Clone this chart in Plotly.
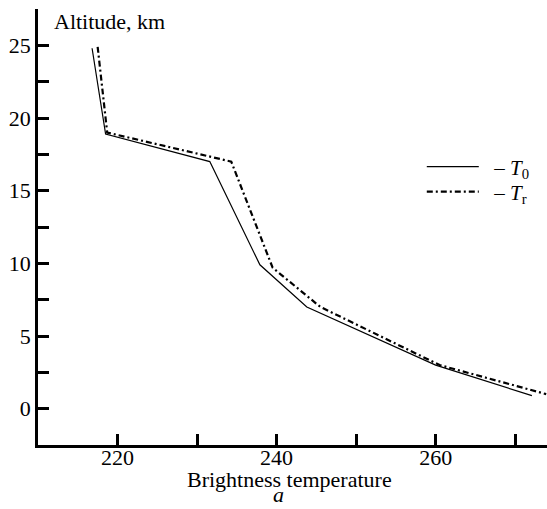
import plotly.graph_objects as go

# Data
alt_t0 = [24.8, 18.9, 17.0, 9.9, 7.0, 3.0, 0.9]
temp_t0 = [216.8, 218.5, 231.6, 237.9, 243.8, 260.0, 272.1]

alt_tr = [24.9, 19.0, 17.0, 9.7, 7.0, 3.0, 1.0]
temp_tr = [217.5, 218.7, 234.3, 239.5, 245.5, 260.5, 273.9]

x_ticks = [220, 240, 260]
y_ticks = [0, 5, 10, 15, 20, 25]

FONT = "Liberation Serif"

fig = go.Figure()
fig.add_trace(go.Scatter(
    x=temp_t0, y=alt_t0, mode="lines", name="  – <i>T</i><sub>0</sub>",
    line=dict(color="black", width=1.2), cliponaxis=False, legend="legend"))
fig.add_trace(go.Scatter(
    x=temp_tr, y=alt_tr, mode="lines", name="  – <i>T</i><sub>r</sub>",
    line=dict(color="black", width=2.2, dash="6px,3px,2px,3px"), cliponaxis=False,
    legend="legend2"))

leg_common = dict(xanchor="left", yanchor="middle", bgcolor="rgba(0,0,0,0)",
                  font=dict(family=FONT, size=21), itemwidth=52)

fig.update_layout(
    width=547, height=509,
    margin=dict(l=38, r=0, t=9, b=64),
    paper_bgcolor="white", plot_bgcolor="white",
    font=dict(family=FONT, size=22, color="black"),
    showlegend=True,
    legend=dict(x=0.754, y=(445 - 167) / 436, **leg_common),
    legend2=dict(x=0.754, y=(445 - 192) / 436, **leg_common),
    xaxis=dict(range=[210, 274], showgrid=False, zeroline=False,
               showline=True, linecolor="black", linewidth=2.5,
               ticks="inside", ticklen=11, tickwidth=2.5, tickcolor="black",
               tickfont=dict(family=FONT, size=22), ticklabelstandoff=-9,
               tickvals=x_ticks, ticktext=[str(v) for v in x_ticks],
               minor=dict(ticks="inside", ticklen=11, tickwidth=2.5,
                          tickcolor="black", tickvals=[230, 250, 270])),
    yaxis=dict(range=[-2.5, 27.5], showgrid=False, zeroline=False,
               showline=True, linecolor="black", linewidth=2.5,
               ticks="inside", ticklen=11, tickwidth=2.5, tickcolor="black",
               tickfont=dict(family=FONT, size=22),
               tickvals=y_ticks, ticktext=[str(v) for v in y_ticks],
               minor=dict(ticks="inside", ticklen=11, tickwidth=2.5,
                          tickcolor="black",
                          tickvals=[2.5, 7.5, 12.5, 17.5, 22.5, 27.5])),
    annotations=[
        dict(text="Altitude, km", xref="paper", yref="paper", x=0, y=1,
             xanchor="left", yanchor="middle", xshift=14, yshift=-12,
             showarrow=False, font=dict(family=FONT, size=22)),
        dict(text="Brightness temperature", xref="paper", yref="paper",
             x=0.495, y=0, xanchor="center", yanchor="middle", yshift=-34,
             showarrow=False, font=dict(family=FONT, size=22)),
        dict(text="<i>a</i>", xref="paper", yref="paper",
             x=(278.3 - 38) / 509, y=-64 / 436, xanchor="center", yanchor="bottom",
             showarrow=False, font=dict(family=FONT, size=22)),
    ],
)

fig.write_html("out.html")
